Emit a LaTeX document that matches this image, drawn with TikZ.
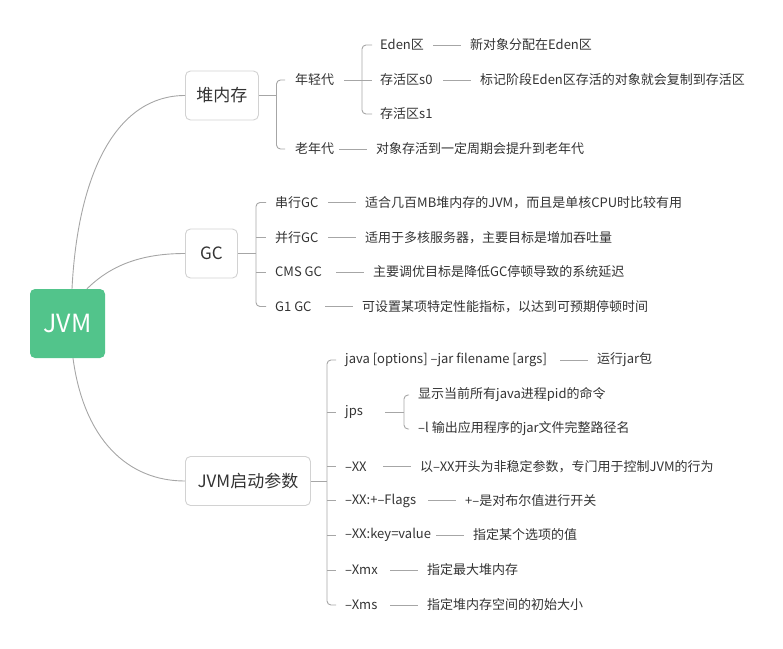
\documentclass[tikz,border=0pt]{standalone}
\usepackage{fontspec}
\usetikzlibrary{calc}
\newfontfamily\cjk{Noto Sans CJK SC}
\definecolor{rootgreen}{HTML}{52C48B}
\definecolor{boxline}{HTML}{D2D2D2}
\definecolor{wire}{HTML}{A6A6A6}
\definecolor{ink}{HTML}{333333}
\begin{document}
\begin{tikzpicture}[x=1pt,y=-1pt,
  wire/.style={draw=wire, line width=0.9pt},
  bracket/.style={wire, rounded corners=4pt},
  rootbox/.style={fill=rootgreen, rounded corners=5pt, text=white,
    minimum width=75pt, minimum height=69pt, inner sep=0pt,
    font=\cjk\fontsize{25}{30}\selectfont},
  topicbox/.style={draw=boxline, fill=white, line width=0.9pt, rounded corners=5pt,
    anchor=west, minimum height=49pt, inner sep=0pt, text=ink,
    font=\cjk\fontsize{17}{20}\selectfont},
  item/.style={anchor=west, inner sep=0pt, text=ink,
    font=\cjk\fontsize{13}{15}\selectfont}]
\useasboundingbox (0,0) rectangle (783,648);

% ---------- nodes ----------
\node[rootbox] (root) at (67.5,323.5) {JVM};

\node[topicbox, minimum width=73pt] (heap) at (185,95.5) {堆内存};
\node[topicbox, minimum width=52pt] (gc) at (185,253.5) {GC};
\node[topicbox, minimum width=125pt] (args) at (185,481) {JVM启动参数};

% heap branch
\node[item] (young) at (295,80) {年轻代};
\node[item] (old) at (295,149) {老年代};
\node[item] (eden) at (380,45) {Eden区};
\node[item] (s0) at (380,80) {存活区s0};
\node[item] (s1) at (380,114) {存活区s1};
\node[item] (edenL) at (470,45) {新对象分配在Eden区};
\node[item] (s0L) at (480,80) {标记阶段Eden区存活的对象就会复制到存活区};
\node[item] (oldL) at (376,149) {对象存活到一定周期会提升到老年代};

% gc branch
\node[item] (serial) at (275,202.5) {串行GC};
\node[item] (parallel) at (275,237.5) {并行GC};
\node[item] (cms) at (275,272) {CMS GC};
\node[item] (g1) at (275,306.5) {G1 GC};
\node[item] (serialL) at (365,202.5) {适合几百MB堆内存的JVM，而且是单核CPU时比较有用};
\node[item] (parallelL) at (365,237.5) {适用于多核服务器，主要目标是增加吞吐量};
\node[item] (cmsL) at (373,272) {主要调优目标是降低GC停顿导致的系统延迟};
\node[item] (g1L) at (362,306.5) {可设置某项特定性能指标，以达到可预期停顿时间};

% jvm args branch
\node[item] (java) at (345,360) {java [options] –jar filename [args]};
\node[item] (jps) at (345,412) {jps};
\node[item] (xx) at (345,466.5) {–XX};
\node[item] (flags) at (345,500.5) {–XX:+–Flags};
\node[item] (kv) at (345,535) {–XX:key=value};
\node[item] (xmx) at (345,570) {–Xmx};
\node[item] (xms) at (345,605) {–Xms};
\node[item] (javaL) at (597,360) {运行jar包};
\node[item] (jpsA) at (418,395) {显示当前所有java进程pid的命令};
\node[item] (jpsB) at (418,429) {–l 输出应用程序的jar文件完整路径名};
\node[item] (xxL) at (420,466.5) {以–XX开头为非稳定参数，专门用于控制JVM的行为};
\node[item] (flagsL) at (465,500.5) {+–是对布尔值进行开关};
\node[item] (kvL) at (473,535) {指定某个选项的值};
\node[item] (xmxL) at (427,570) {指定最大堆内存};
\node[item] (xmsL) at (427,605) {指定堆内存空间的初始大小};

% bracket spines
\coordinate (bHeap) at (276.5,0);
\coordinate (bYoung) at (362,0);
\coordinate (bGc) at (256,0);
\coordinate (bArgs) at (327,0);
\coordinate (bJps) at (404,0);

% ---------- root curves ----------
\draw[wire] ($(root.north)+(4.5,0)$) .. controls (78,170) and (118,95.5) .. (heap.west);
\draw[wire] ($(root.north)+(19.5,0)$) .. controls (110,266) and (140,253.5) .. (gc.west);
\draw[wire] ($(root.south)+(5.5,0)$) .. controls (84,440) and (128,481) .. (args.west);

% ---------- heap ----------
\draw[wire] (heap.east) -- (heap.east -| bHeap);
\draw[bracket] ($(young.west)+(-10,0)$) -- (young.west -| bHeap) -- (old.west -| bHeap) -- ($(old.west)+(-10,0)$);
\draw[wire] ($(young.east)+(10,0)$) -- ($(s0.west)+(-8,0)$);
\draw[bracket] ($(eden.west)+(-8,0)$) -- (eden.west -| bYoung) -- (s1.west -| bYoung) -- ($(s1.west)+(-8,0)$);

% ---------- gc ----------
\draw[wire] (gc.east) -- (gc.east -| bGc);
\draw[bracket] ($(serial.west)+(-9,0)$) -- (serial.west -| bGc) -- (g1.west -| bGc) -- ($(g1.west)+(-9,0)$);
\foreach \n in {parallel,cms}
  \draw[wire] (\n.west -| bGc) -- ($(\n.west)+(-9,0)$);

% ---------- jvm args ----------
\draw[wire] (args.east) -- (args.east -| bArgs);
\draw[bracket] ($(java.west)+(-9,0)$) -- (java.west -| bArgs) -- (xms.west -| bArgs) -- ($(xms.west)+(-9,0)$);
\foreach \n in {jps,xx,flags,kv,xmx}
  \draw[wire] (\n.west -| bArgs) -- ($(\n.west)+(-9,0)$);
\draw[wire] ($(jps.east -| bJps)+(-19,0)$) -- (jps.east -| bJps);
\draw[bracket] ($(jpsA.west)+(-9,0)$) -- (jpsA.west -| bJps) -- (jpsB.west -| bJps) -- ($(jpsB.west)+(-9,0)$);

% ---------- short leaders in front of the notes ----------
\foreach \n in {edenL,s0L,oldL,serialL,parallelL,cmsL,g1L,javaL,xxL,flagsL,kvL,xmxL,xmsL}
  \draw[wire] ($(\n.west)+(-37,0)$) -- ($(\n.west)+(-9,0)$);
\end{tikzpicture}
\end{document}
